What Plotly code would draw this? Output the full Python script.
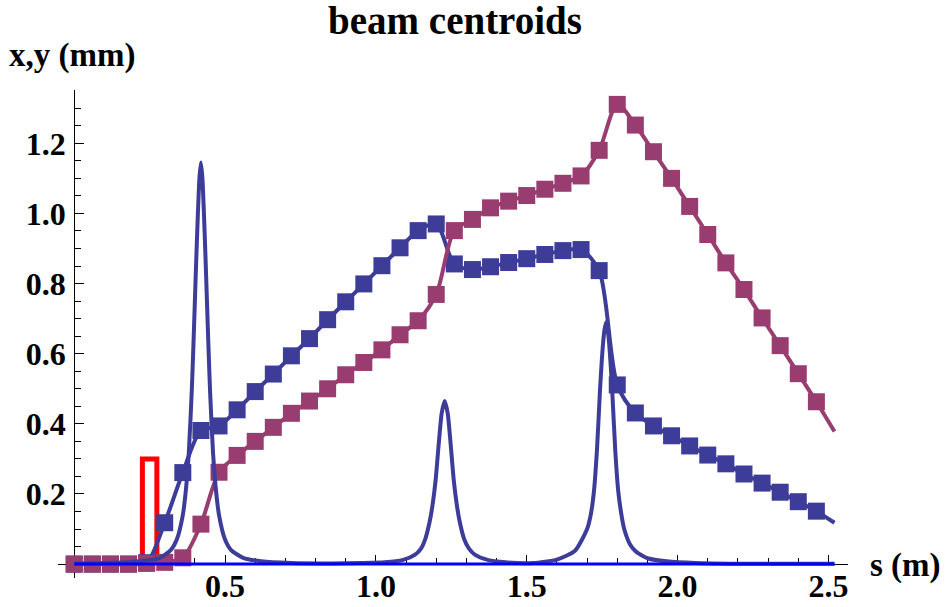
import plotly.graph_objects as go

# ---------------- data ----------------
s_mark = [0.00, 0.06, 0.12, 0.18, 0.24, 0.30, 0.36, 0.42, 0.48, 0.54,
          0.60, 0.66, 0.72, 0.78, 0.84, 0.90, 0.96, 1.02, 1.08, 1.14,
          1.20, 1.26, 1.32, 1.38, 1.44, 1.50, 1.56, 1.62, 1.68, 1.74,
          1.80, 1.86, 1.92, 1.98, 2.04, 2.10, 2.16, 2.22, 2.28, 2.34,
          2.40, 2.46]
x_centroid = [0.000, 0.000, 0.000, 0.000, 0.004, 0.118, 0.261, 0.381, 0.394, 0.440,
              0.492, 0.542, 0.594, 0.643, 0.697, 0.748, 0.799, 0.851, 0.902, 0.951,
              0.970, 0.856, 0.840, 0.848, 0.860, 0.871, 0.883, 0.894, 0.897, 0.837,
              0.511, 0.431, 0.394, 0.366, 0.337, 0.311, 0.286, 0.257, 0.231, 0.205,
              0.178, 0.151]
y_centroid = [0.000, 0.000, 0.000, 0.000, 0.002, 0.005, 0.018, 0.114, 0.262, 0.310,
              0.350, 0.390, 0.430, 0.465, 0.500, 0.540, 0.575, 0.611, 0.654, 0.694,
              0.769, 0.951, 0.983, 1.016, 1.035, 1.051, 1.069, 1.086, 1.107, 1.180,
              1.311, 1.252, 1.176, 1.100, 1.020, 0.940, 0.859, 0.783, 0.702, 0.623,
              0.543, 0.463]
s_end = 2.52
x_end = 0.118
y_end = 0.378

# quadrupole field profile (thin curve)
prof_s = [0.00, 0.10, 0.20, 0.28, 0.32, 0.34, 0.36, 0.37, 0.38, 0.39, 0.395, 0.40,
          0.405, 0.41, 0.415, 0.42, 0.425, 0.43, 0.435, 0.44, 0.445, 0.45, 0.46,
          0.47, 0.48, 0.50, 0.52, 0.56, 0.62, 0.72, 0.85, 0.95, 1.03, 1.09, 1.13,
          1.15, 1.163, 1.178, 1.188, 1.198, 1.208, 1.218, 1.228, 1.238, 1.248,
          1.258, 1.268, 1.278, 1.293, 1.308, 1.328, 1.37, 1.43, 1.52, 1.60, 1.66,
          1.70, 1.713, 1.723, 1.733, 1.743, 1.748, 1.753, 1.758, 1.763, 1.768,
          1.773, 1.778, 1.783, 1.793, 1.803, 1.813, 1.823, 1.843, 1.863, 1.903,
          1.963, 2.06, 2.20, 2.35, 2.52]
prof_v = [0.002, 0.003, 0.007, 0.016, 0.040, 0.070, 0.140, 0.210, 0.320, 0.500, 0.620, 0.750,
          0.880, 1.000, 1.100, 1.145, 1.100, 1.000, 0.880, 0.750, 0.620, 0.500, 0.320,
          0.210, 0.140, 0.070, 0.040, 0.018, 0.008, 0.003, 0.002, 0.003, 0.005, 0.012, 0.027,
          0.045, 0.070, 0.120, 0.170, 0.240, 0.340, 0.430, 0.465, 0.430, 0.340,
          0.240, 0.170, 0.120, 0.070, 0.045, 0.027, 0.012, 0.005, 0.003, 0.013, 0.038,
          0.100, 0.145, 0.210, 0.330, 0.500, 0.570, 0.630, 0.670, 0.690, 0.670,
          0.630, 0.570, 0.500, 0.330, 0.210, 0.145, 0.100, 0.055, 0.035, 0.016,
          0.008, 0.003, 0.001, 0.001, 0.001]

base_s = [0.0, 2.52]
base_v = [0.0, 0.0]

elem_s = [0.226, 0.226, 0.274, 0.274]
elem_v = [0.0, 0.30, 0.30, 0.0]

x_tick_vals = [0.5, 1.0, 1.5, 2.0, 2.5]
x_tick_text = ["0.5", "1.0", "1.5", "2.0", "2.5"]
y_tick_vals = [0.2, 0.4, 0.6, 0.8, 1.0, 1.2]
y_tick_text = ["0.2", "0.4", "0.6", "0.8", "1.0", "1.2"]

BLUE = "#3d3d99"
MAGENTA = "#993d71"
FONT = "Liberation Serif"

fig = go.Figure()

fig.add_trace(go.Scatter(x=elem_s, y=elem_v, mode="lines",
                         line=dict(color="#ff0000", width=5), hoverinfo="skip"))

# x centroid (blue)
fig.add_trace(go.Scatter(x=s_mark + [s_end], y=x_centroid + [x_end], mode="lines",
                         line=dict(color=BLUE, width=4, shape="spline", smoothing=0.8)))
fig.add_trace(go.Scatter(x=s_mark, y=x_centroid, mode="markers",
                         marker=dict(symbol="square", size=17, color=BLUE, line=dict(width=0))))
# y centroid (magenta)
fig.add_trace(go.Scatter(x=s_mark + [s_end], y=y_centroid + [y_end], mode="lines",
                         line=dict(color=MAGENTA, width=4, shape="spline", smoothing=0.8)))
fig.add_trace(go.Scatter(x=s_mark, y=y_centroid, mode="markers",
                         marker=dict(symbol="square", size=17, color=MAGENTA, line=dict(width=0))))

# field profile
fig.add_trace(go.Scatter(x=prof_s, y=prof_v, mode="lines",
                         line=dict(color=BLUE, width=4, shape="spline", smoothing=0.6)))
# baseline
fig.add_trace(go.Scatter(x=base_s, y=base_v, mode="lines",
                         line=dict(color="#0000ff", width=3)))

X0, X1 = -0.0537, 2.5648
Y0, Y1 = -0.0396, 1.352

axis_common = dict(showline=True, linecolor="black", linewidth=1,
                   ticks="inside", ticklen=9, tickwidth=1, tickcolor="black",
                   showgrid=False, zeroline=False, anchor="free", layer="below traces",
                   automargin=False,
                   tickfont=dict(family=FONT, size=32, color="black", weight="bold"))

fig.update_layout(
    width=946, height=607,
    margin=dict(l=58, r=98, t=90, b=29, autoexpand=False),
    paper_bgcolor="white", plot_bgcolor="white",
    showlegend=False,
    title=dict(text="beam centroids", x=455 / 946, xref="container", xanchor="center",
               y=1 - 20 / 607, yref="container", yanchor="middle", automargin=False,
               font=dict(family=FONT, size=39, color="black", weight="bold")),
    xaxis=dict(range=[X0, X1], tickvals=x_tick_vals, ticktext=x_tick_text,
               position=(0 - Y0) / (Y1 - Y0), ticklabelstandoff=-7,
               minor=dict(ticks="inside", ticklen=6, tickcolor="black", dtick=0.1, tick0=0,
                          showgrid=False),
               **axis_common),
    yaxis=dict(range=[Y0, Y1], tickvals=y_tick_vals, ticktext=y_tick_text,
               position=(0 - X0) / (X1 - X0), ticklabelstandoff=2,
               minor=dict(ticks="inside", ticklen=6, tickcolor="black", dtick=0.05, tick0=0,
                          showgrid=False),
               **axis_common),
    annotations=[
        dict(text="x,y (mm)", xref="paper", yref="paper", x=(72 - 58) / 790, y=(578 - 56) / 488,
             xanchor="center", yanchor="middle", showarrow=False,
             font=dict(family=FONT, size=33, color="black", weight="bold")),
        dict(text="s (m)", xref="paper", yref="paper", x=(905 - 58) / 790, y=(578 - 565) / 488,
             xanchor="center", yanchor="middle", showarrow=False,
             font=dict(family=FONT, size=33, color="black", weight="bold")),
    ],
)

fig.write_html("out.html")
